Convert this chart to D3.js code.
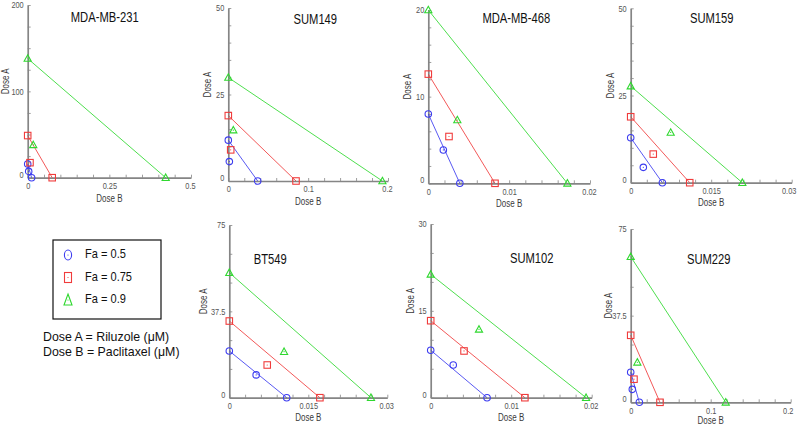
<!DOCTYPE html>
<html><head><meta charset="utf-8">
<script src="https://cdn.jsdelivr.net/npm/d3@7"></script>
<style>body{margin:0;background:#fff}svg{display:block}</style>
</head><body><svg id="c" width="800" height="428"></svg>
<script>
// ---------- data ----------
const cellLines = ["MDA-MB-231","SUM149","MDA-MB-468","SUM159","BT549","SUM102","SUM229"];
const doseAMax = [200,50,20,50,75,30,75];
const doseBMax = [0.5,0.2,0.02,0.03,0.03,0.02,0.2];
const doseAMinorStep = [25,5,2,5,12.5,5,12.5];
const yTickLabels = [["0","100","200"],["0","25","50"],["0","10","20"],["0","25","50"],["0","37.5","75"],["0","15","30"],["0","37.5","75"]];
const xTickLabels = [["0","0.25","0.5"],["0","0.1","0.2"],["0","0.01","0.02"],["0","0.015","0.03"],["0","0.015","0.03"],["0","0.01","0.02"],["0","0.1","0.2"]];
const faLevels = ["Fa = 0.5","Fa = 0.75","Fa = 0.9"];
// single-agent doses (isobole end points)
const aloneA50 = [15.9,11.8,8.0,12.9,20.3,8.2,13.0];
const aloneB50 = [0.012,0.0368,0.0039,0.0059,0.0109,0.0070,0.0108];
const aloneA75 = [48.8,18.9,12.6,18.9,33.3,13.3,29.0];
const aloneB75 = [0.075,0.0848,0.00825,0.0110,0.0172,0.0117,0.0366];
const aloneA90 = [138,29.9,20.0,27.7,54.3,21.3,63.0];
const aloneB90 = [0.4225,0.193,0.0172,0.0208,0.0269,0.0193,0.1188];
// combination points
const comboA50 = [7.3,5.6,3.85,4.4,9.9,5.65,5.6];
const comboB50 = [0.003,0.0013,0.00186,0.00235,0.0051,0.0028,0.002];
const comboA75 = [17.4,9.0,5.4,8.2,14.2,8.07,10.0];
const comboB75 = [0.007,0.003,0.00256,0.0042,0.0072,0.00414,0.0041];
const comboA90 = [38,14.7,7.3,14.4,20.0,11.8,17.3];
const comboB90 = [0.017,0.0063,0.00359,0.00745,0.0104,0.0060,0.0083];
const noteLines = ["Dose A = Riluzole (\u03bcM)","Dose B = Paclitaxel (\u03bcM)"];

// ---------- layout / style ----------
const layout = [
  {x:27.7,y:5,w:163.3,h:172.7,tx:77,ty:13,yl:-21,xl:22},
  {x:228.3,y:8,w:159.7,h:173,tx:87,ty:12,yl:-20,xl:21},
  {x:428.3,y:10,w:161.7,h:173.3,tx:88,ty:9,yl:-20,xl:21},
  {x:630.7,y:8.3,w:161,h:174.4,tx:81,ty:11,yl:-19,xl:21},
  {x:229.3,y:225,w:158,h:172.7,tx:41,ty:35,yl:-25,xl:21},
  {x:430.7,y:224,w:161,h:173.7,tx:101,ty:35,yl:-19,xl:20.5},
  {x:630.7,y:229,w:160,h:173.3,tx:78,ty:31,yl:-21,xl:19.5}
];
const colors = ["#3c3cf0","#f03c3c","#2fd82f"];
const axisColor = "#858585";
const FONT = "Arial, 'Liberation Sans', Helvetica, sans-serif";
const svg = d3.select("#c");

function condense(sel, f){
  sel.each(function(){
    const w = this.getComputedTextLength();
    this.setAttribute("textLength", w*f);
    this.setAttribute("lengthAdjust","spacingAndGlyphs");
  });
}

function marker(g, type, cx, cy, color, s, dot){
  if(type===0){
    g.append("ellipse").attr("cx",cx).attr("cy",cy).attr("rx",s*0.5).attr("ry",s*0.5)
      .attr("fill","none").attr("stroke",color).attr("stroke-width",1.1);
  } else if(type===1){
    g.append("rect").attr("x",cx-s*0.5).attr("y",cy-s*0.5).attr("width",s).attr("height",s)
      .attr("fill","none").attr("stroke",color).attr("stroke-width",1.1);
  } else {
    const h=s*0.95;
    g.append("path").attr("d",`M${cx},${cy-h*0.6}L${cx+s*0.55},${cy+h*0.45}L${cx-s*0.55},${cy+h*0.45}Z`)
      .attr("fill","none").attr("stroke",color).attr("stroke-width",1.1);
  }
  if(dot){
    g.append("circle").attr("cx",cx).attr("cy",cy).attr("r",0.6).attr("fill",color);
  }
}

const aloneA = [aloneA50, aloneA75, aloneA90];
const aloneB = [aloneB50, aloneB75, aloneB90];
const comboA = [comboA50, comboA75, comboA90];
const comboB = [comboB50, comboB75, comboB90];

cellLines.forEach((name,i)=>{
  const L = layout[i];
  const g = svg.append("g").attr("transform",`translate(${L.x},${L.y})`);
  const x = d3.scaleLinear().domain([0,doseBMax[i]]).range([0,L.w]);
  const y = d3.scaleLinear().domain([0,doseAMax[i]]).range([L.h,0]);

  // y axis
  const yt = d3.range(0, doseAMax[i]+1e-9, doseAMinorStep[i]);
  const ymaj = [0, doseAMax[i]/2, doseAMax[i]];
  const ya = g.append("g").call(d3.axisLeft(y).tickValues(yt).tickSizeInner(-3).tickSizeOuter(0).tickPadding(4)
      .tickFormat(v=>{const k=ymaj.findIndex(m=>Math.abs(m-v)<1e-9);return k>=0?yTickLabels[i][k]:"";}));
  // x axis
  const xt = d3.range(0,11).map(k=>k*doseBMax[i]/10);
  const xa = g.append("g").attr("transform",`translate(0,${L.h})`)
    .call(d3.axisBottom(x).tickValues(xt).tickSizeInner(-3).tickSizeOuter(0).tickPadding(5)
      .tickFormat((v,k)=> k%5===0 ? xTickLabels[i][k/5] : ""));
  [ya,xa].forEach(a=>{
    a.select(".domain").attr("stroke",axisColor).attr("stroke-width",1.7);
    a.selectAll(".tick line").attr("stroke",axisColor).attr("stroke-width",0.8);
    a.selectAll("text").attr("fill","#555").attr("font-size",9).attr("font-family",FONT);
  });
  ya.selectAll(".tick").filter(v=>v===0).select("text").attr("dy","-0.05em");
  xa.selectAll(".tick").filter((v,k)=>k===10).select("text").attr("dx", L.x+L.w>780 ? "-3px" : "-1px");
  condense(ya.selectAll("text"),0.82);
  condense(xa.selectAll("text"),0.82);

  // axis labels
  const xl = g.append("text").attr("x",L.w/2).attr("y",L.h+L.xl).attr("text-anchor","middle")
    .attr("dominant-baseline","middle").attr("font-size",10).attr("font-family",FONT).attr("fill","#3a3a3a").text("Dose B");
  condense(xl,0.8);
  const yl = g.append("text").attr("transform",`translate(${L.yl},${L.h/2-10}) rotate(-90)`)
    .attr("text-anchor","middle").attr("dominant-baseline","middle").attr("font-size",10)
    .attr("font-family",FONT).attr("fill","#3a3a3a").text("Dose A");
  condense(yl,0.8);

  // title
  const t = g.append("text").attr("x",L.tx).attr("y",L.ty).attr("text-anchor","middle")
    .attr("dominant-baseline","middle").attr("font-size",14).attr("font-family",FONT).attr("fill","#111").text(name);
  condense(t,0.8);

  // isoboles
  for(let f=0; f<3; f++){
    const c = colors[f];
    const pts = [[0,aloneA[f][i]],[aloneB[f][i],0]];
    g.append("path").attr("d",d3.line().x(d=>x(d[0])).y(d=>y(d[1]))(pts))
      .attr("stroke",c).attr("stroke-width",1).attr("fill","none").attr("opacity",0.85);
    pts.forEach(p=>marker(g,f,x(p[0]),y(p[1]),c,6.5,false));
    marker(g,f,x(comboB[f][i]),y(comboA[f][i]),c,6.5,true);
  }
});

// legend
const lg = svg.append("g");
lg.append("rect").attr("x",53).attr("y",240).attr("width",108).attr("height",79)
  .attr("fill","none").attr("stroke","#111").attr("stroke-width",1.2);
faLevels.forEach((lab,f)=>{
  const cy = 255 + f*22.5;
  const c = colors[f];
  if(f===0){
    lg.append("ellipse").attr("cx",68).attr("cy",cy).attr("rx",3.6).attr("ry",5).attr("fill","none").attr("stroke",c).attr("stroke-width",1.1);
  } else if(f===1){
    lg.append("rect").attr("x",64.5).attr("y",cy-5).attr("width",7).attr("height",10).attr("fill","none").attr("stroke",c).attr("stroke-width",1.1);
  } else {
    lg.append("path").attr("d",`M68,${cy-6}L72,${cy+5}L64,${cy+5}Z`).attr("fill","none").attr("stroke",c).attr("stroke-width",1.1);
  }
  lg.append("circle").attr("cx",68).attr("cy",cy).attr("r",0.6).attr("fill",c);
  const tx = lg.append("text").attr("x",85).attr("y",cy).attr("dominant-baseline","middle")
    .attr("font-size",13).attr("font-family",FONT).attr("fill","#111").text(lab);
  condense(tx,0.85);
});
noteLines.forEach((s,k)=>{
  const tx = svg.append("text").attr("x",43).attr("y",338+k*15).attr("dominant-baseline","middle")
    .attr("font-size",13).attr("font-family",FONT).attr("fill","#111").text(s);
  condense(tx,0.95);
});
</script></body></html>
